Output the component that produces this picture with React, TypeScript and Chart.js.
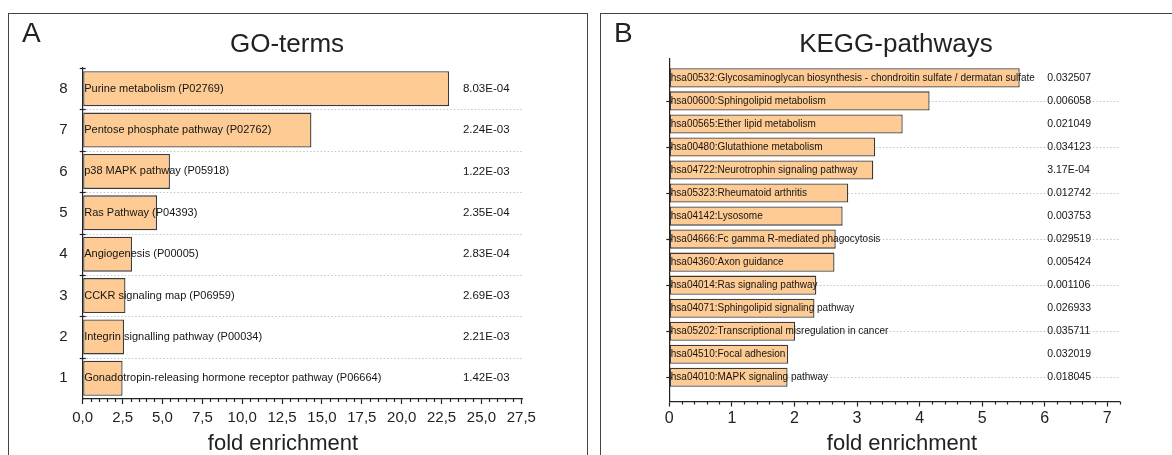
import React, { useEffect, useRef } from 'react';
import { Chart, registerables } from 'chart.js';

Chart.register(...registerables);

// ---------- Panel A data (GO-terms) ----------
const goNumbers = ['8', '7', '6', '5', '4', '3', '2', '1'];
const goTerms = [
  'Purine metabolism (P02769)',
  'Pentose phosphate pathway (P02762)',
  'p38 MAPK pathway (P05918)',
  'Ras Pathway (P04393)',
  'Angiogenesis (P00005)',
  'CCKR signaling map (P06959)',
  'Integrin signalling pathway (P00034)',
  'Gonadotropin-releasing hormone receptor pathway (P06664)',
];
const goFold = [22.97, 14.34, 5.47, 4.66, 3.09, 2.68, 2.59, 2.5];
const goPValues = ['8.03E-04', '2.24E-03', '1.22E-03', '2.35E-04', '2.83E-04', '2.69E-03', '2.21E-03', '1.42E-03'];
const goXTicks = [0, 2.5, 5, 7.5, 10, 12.5, 15, 17.5, 20, 22.5, 25, 27.5];

// ---------- Panel B data (KEGG-pathways) ----------
const keggTerms = [
  'hsa00532:Glycosaminoglycan biosynthesis - chondroitin sulfate / dermatan sulfate',
  'hsa00600:Sphingolipid metabolism',
  'hsa00565:Ether lipid metabolism',
  'hsa00480:Glutathione metabolism',
  'hsa04722:Neurotrophin signaling pathway',
  'hsa05323:Rheumatoid arthritis',
  'hsa04142:Lysosome',
  'hsa04666:Fc gamma R-mediated phagocytosis',
  'hsa04360:Axon guidance',
  'hsa04014:Ras signaling pathway',
  'hsa04071:Sphingolipid signaling pathway',
  'hsa05202:Transcriptional misregulation in cancer',
  'hsa04510:Focal adhesion',
  'hsa04010:MAPK signaling pathway',
];
const keggFold = [5.6, 4.16, 3.73, 3.29, 3.26, 2.86, 2.77, 2.66, 2.64, 2.35, 2.32, 2.01, 1.9, 1.89];
const keggPValues = [
  '0.032507', '0.006058', '0.021049', '0.034123', '3.17E-04', '0.012742', '0.003753',
  '0.029519', '0.005424', '0.001106', '0.026933', '0.035711', '0.032019', '0.018045',
];
const keggXTicks = [0, 1, 2, 3, 4, 5, 6, 7];

const FONT = '"Liberation Sans", Arial, Helvetica, sans-serif';
const BAR_FILL = '#FDCB93';
const BAR_EDGE = '#3a3a3a';
const AXIS = '#222222';

type DecorOpts = {
  labels: string[];
  labelSize: number;
  pValues: string[];
  pSize: number;
  pAt: number;
  pAlign: CanvasTextAlign;
  gridAt: number[];
  yTickAt: number[];
  majors: number[];
  minorStep: number;
};

function makeDecor(o: DecorOpts) {
  return {
    id: 'decor',
    beforeDatasetsDraw(chart: any) {
      const { ctx, chartArea } = chart;
      const y = chart.scales.y;
      ctx.save();
      ctx.strokeStyle = '#c4c4c4';
      ctx.lineWidth = 1;
      ctx.setLineDash([1.5, 2]);
      for (const v of o.gridAt) {
        const py = Math.round(y.getPixelForValue(v)) + 0.5;
        ctx.beginPath();
        ctx.moveTo(chartArea.left, py);
        ctx.lineTo(chartArea.right, py);
        ctx.stroke();
      }
      ctx.restore();
    },
    afterDatasetsDraw(chart: any) {
      const { ctx, chartArea } = chart;
      const x = chart.scales.x;
      const y = chart.scales.y;
      ctx.save();
      ctx.fillStyle = '#151515';
      ctx.textBaseline = 'middle';
      ctx.textAlign = 'left';
      ctx.font = `${o.labelSize}px ${FONT}`;
      o.labels.forEach((t, i) => ctx.fillText(t, chartArea.left + 1.5, y.getPixelForValue(i)));
      ctx.font = `${o.pSize}px ${FONT}`;
      ctx.textAlign = o.pAlign;
      const px = x.getPixelForValue(o.pAt);
      o.pValues.forEach((t, i) => ctx.fillText(t, px, y.getPixelForValue(i)));
      ctx.strokeStyle = AXIS;
      ctx.lineWidth = 1.2;
      for (const v of o.yTickAt) {
        const py = Math.round(y.getPixelForValue(v)) + 0.5;
        ctx.beginPath();
        ctx.moveTo(chartArea.left - 3, py);
        ctx.lineTo(chartArea.left + 3, py);
        ctx.stroke();
      }
      const n = Math.round(x.max / o.minorStep);
      for (let i = 0; i <= n; i++) {
        const v = i * o.minorStep;
        if (o.majors.some((m) => Math.abs(m - v) < 1e-6)) continue;
        const pxv = Math.round(x.getPixelForValue(v)) + 0.5;
        ctx.beginPath();
        ctx.moveTo(pxv, chartArea.bottom);
        ctx.lineTo(pxv, chartArea.bottom + 3);
        ctx.stroke();
      }
      ctx.restore();
    },
  };
}

type PanelCfg = {
  fold: number[];
  barPct: number;
  yMin: number;
  yMax: number;
  yLabels: string[] | null;
  yFont: number;
  yWidth: number;
  xMax: number;
  xTicks: number[];
  xFmt: (v: number) => string;
  xFont: number;
  xPad: number;
  xHeight: number;
  padRight: number;
  padTop: number;
  decor: DecorOpts;
};

function buildConfig(c: PanelCfg): any {
  return {
    type: 'bar',
    data: {
      datasets: [
        {
          data: c.fold.map((v, i) => ({ x: v, y: i })),
          backgroundColor: BAR_FILL,
          borderColor: BAR_EDGE,
          borderWidth: 1.3,
          borderSkipped: false,
          barPercentage: c.barPct,
          categoryPercentage: 1,
        },
      ],
    },
    options: {
      indexAxis: 'y',
      animation: false,
      responsive: false,
      devicePixelRatio: 1,
      events: [],
      layout: { padding: { left: 0, right: c.padRight, top: c.padTop, bottom: 0 } },
      plugins: { legend: { display: false }, tooltip: { enabled: false }, title: { display: false } },
      scales: {
        x: {
          type: 'linear',
          min: 0,
          max: c.xMax,
          offset: false,
          bounds: 'data',
          afterBuildTicks: (s: any) => {
            s.ticks = c.xTicks.map((v) => ({ value: v }));
          },
          afterFit: (s: any) => {
            s.height = c.xHeight;
          },
          ticks: {
            autoSkip: false,
            maxRotation: 0,
            padding: c.xPad,
            color: AXIS,
            font: { family: FONT, size: c.xFont },
            callback: (v: number) => c.xFmt(v),
          },
          grid: { display: true, offset: false, drawOnChartArea: false, drawTicks: true, tickLength: 5, tickColor: AXIS, tickWidth: 1.2 },
          border: { display: true, color: AXIS, width: 1.2 },
        },
        y: {
          type: 'linear',
          reverse: true,
          min: c.yMin,
          max: c.yMax,
          offset: false,
          bounds: 'data',
          afterBuildTicks: (s: any) => {
            s.ticks = c.fold.map((_, i) => ({ value: i }));
          },
          afterFit: (s: any) => {
            s.width = c.yWidth;
          },
          ticks: {
            display: !!c.yLabels,
            padding: 7,
            color: AXIS,
            font: { family: FONT, size: c.yFont },
            callback: (_v: number, i: number) => (c.yLabels ? c.yLabels[i] : ''),
          },
          grid: { display: false, offset: false },
          border: { display: true, color: AXIS, width: 1.2 },
        },
      },
    },
    plugins: [makeDecor(c.decor)],
  };
}

function ChartCanvas({ cfg, left, top, width, height }: { cfg: PanelCfg; left: number; top: number; width: number; height: number }) {
  const ref = useRef<HTMLCanvasElement | null>(null);
  useEffect(() => {
    if (!ref.current) return;
    const chart = new Chart(ref.current, buildConfig(cfg));
    return () => chart.destroy();
  }, []);
  return (
    <canvas
      ref={ref}
      width={width}
      height={height}
      style={{ position: 'absolute', left, top, width, height }}
    />
  );
}

function Txt({ text, size, baseline, left, center }: { text: string; size: number; baseline: number; left?: number; center?: number }) {
  const top = baseline - 0.8465 * size;
  const style: React.CSSProperties = {
    position: 'absolute',
    top,
    fontSize: size,
    lineHeight: `${size}px`,
    fontFamily: FONT,
    color: '#222',
    whiteSpace: 'nowrap',
  };
  if (center !== undefined) {
    style.left = center - 300;
    style.width = 600;
    style.textAlign = 'center';
  } else {
    style.left = left;
  }
  return <div style={style}>{text}</div>;
}

const goIdx = goFold.map((_, i) => i);
const keggIdx = keggFold.map((_, i) => i);

const panelA: PanelCfg = {
  fold: goFold,
  barPct: 0.845,
  yMin: -0.5,
  yMax: goFold.length - 0.5,
  yLabels: goNumbers,
  yFont: 15,
  yWidth: 73.7,
  xMax: 27.6,
  xTicks: goXTicks,
  xFmt: (v) => v.toFixed(1).replace('.', ','),
  xFont: 15,
  xPad: 5,
  xHeight: 56,
  padRight: 64.1,
  padTop: 54,
  decor: {
    labels: goTerms,
    labelSize: 11,
    pValues: goPValues,
    pSize: 11.5,
    pAt: 25.3,
    pAlign: 'center',
    gridAt: goIdx.slice(0, -1).map((i) => i + 0.5),
    yTickAt: goIdx.map((i) => i - 0.5),
    majors: goXTicks,
    minorStep: 0.5,
  },
};

const panelB: PanelCfg = {
  fold: keggFold,
  barPct: 0.83,
  yMin: -0.85,
  yMax: 14.05,
  yLabels: null,
  yFont: 15,
  yWidth: 68.3,
  xMax: 7.2,
  xTicks: keggXTicks,
  xFmt: (v) => String(v),
  xFont: 16,
  xPad: 2.6,
  xHeight: 53.5,
  padRight: 52.2,
  padTop: 44.3,
  decor: {
    labels: keggTerms,
    labelSize: 10,
    pValues: keggPValues,
    pSize: 10.5,
    pAt: 6.04,
    pAlign: 'left',
    gridAt: keggIdx.filter((i) => i % 2 === 1),
    yTickAt: keggIdx.filter((i) => i % 2 === 1),
    majors: keggXTicks,
    minorStep: 0.2,
  },
};

export default function App() {
  useEffect(() => {
    document.body.style.margin = '0';
  }, []);
  const frame: React.CSSProperties = {
    position: 'absolute',
    top: 13,
    height: 460,
    border: '1px solid #444',
    boxSizing: 'border-box',
  };
  return (
    <div style={{ position: 'relative', width: 1172, height: 455, overflow: 'hidden', background: '#fff', fontFamily: FONT }}>
      <div style={{ ...frame, left: 8, width: 580 }} />
      <div style={{ ...frame, left: 600, width: 600 }} />
      <ChartCanvas cfg={panelA} left={9} top={14} width={578} height={441} />
      <ChartCanvas cfg={panelB} left={601} top={14} width={571} height={441} />
      <Txt text="A" size={28} baseline={43} left={22} />
      <Txt text="B" size={28} baseline={43} left={614} />
      <Txt text="GO-terms" size={26} baseline={52.5} center={287} />
      <Txt text="KEGG-pathways" size={26} baseline={52.5} center={896} />
      <Txt text="fold enrichment" size={22} baseline={451} center={283} />
      <Txt text="fold enrichment" size={22} baseline={450.5} center={902} />
    </div>
  );
}
